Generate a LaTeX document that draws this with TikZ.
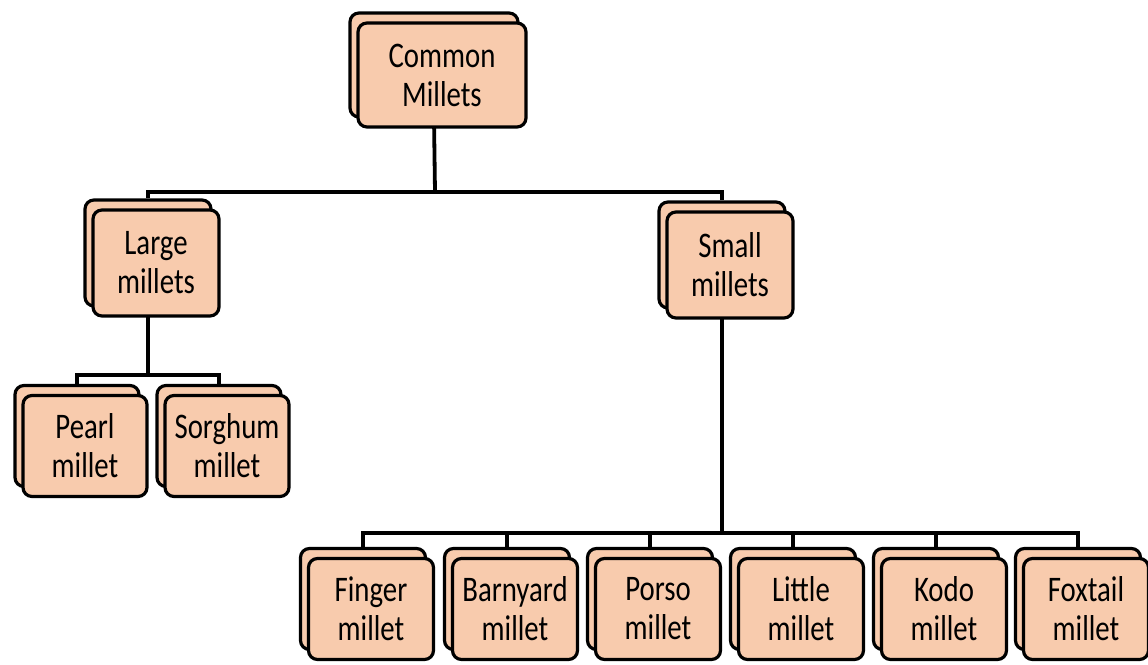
\documentclass[tikz,border=0pt]{standalone}
\usepackage{fontspec}
\setmainfont{Carlito}[FakeStretch=0.8]
\usetikzlibrary{backgrounds}
\definecolor{boxfill}{HTML}{F8CBAD}
\tikzset{
  card/.style={draw=black, line width=3.2pt, fill=boxfill, rounded corners=9pt,
    align=center, inner sep=0pt, text=black,
    font=\fontsize{36}{39}\selectfont},
  link/.style={draw=black, line width=3.8pt},
}
% a stacked pair of cards: back card shifted up-left, front card carries the text
\newcommand\stackcard[6]{%
  \node[card, minimum width=#4pt, minimum height=#5pt] (#1-b) at (#2-8,#3-10) {};
  \node[card, minimum width=#4pt, minimum height=#5pt] (#1) at (#2,#3) {#6};
}
\begin{document}
\begin{tikzpicture}[x=1pt,y=-1pt]
\useasboundingbox (0,0) rectangle (1148,664);

\stackcard{cm}{442}{75}{168}{104}{Common\\Millets}
\stackcard{lg}{156}{263}{126}{106}{Large\\millets}
\stackcard{sm}{730}{265}{126}{106}{Small\\millets}
\stackcard{pe}{85}{446}{124}{101}{Pearl\\millet}
\stackcard{so}{227}{446}{124}{101}{Sorghum\\millet}
\stackcard{fi}{371}{609}{125}{101}{Finger\\millet}
\stackcard{ba}{515}{609}{125}{101}{Barnyard\\millet}
\stackcard{po}{658}{609}{125}{101}{Porso\\millet}
\stackcard{li}{801}{609}{125}{101}{Little\\millet}
\stackcard{ko}{944}{609}{125}{101}{Kodo\\millet}
\stackcard{fo}{1086}{609}{125}{101}{Foxtail\\millet}

\coordinate (j1) at (435,192);
\coordinate (j2) at (148,375);
\coordinate (j3) at (722,533);

\begin{scope}[on background layer]
  \draw[link] (cm-b.south) -- (j1);
  \draw[link] (lg-b.north) |- (j1) -| (sm-b.north);
  \draw[link] (lg-b.south) -- (j2);
  \draw[link] (pe-b.north) |- (j2) -| (so-b.north);
  \draw[link] (sm-b.south) -- (j3);
  \draw[link] (fi-b.north) |- (j3) -| (fo-b.north);
  \foreach \n in {ba,po,li,ko} { \draw[link] (\n-b.north) -- (\n-b.north |- j3); }
\end{scope}
\end{tikzpicture}
\end{document}
